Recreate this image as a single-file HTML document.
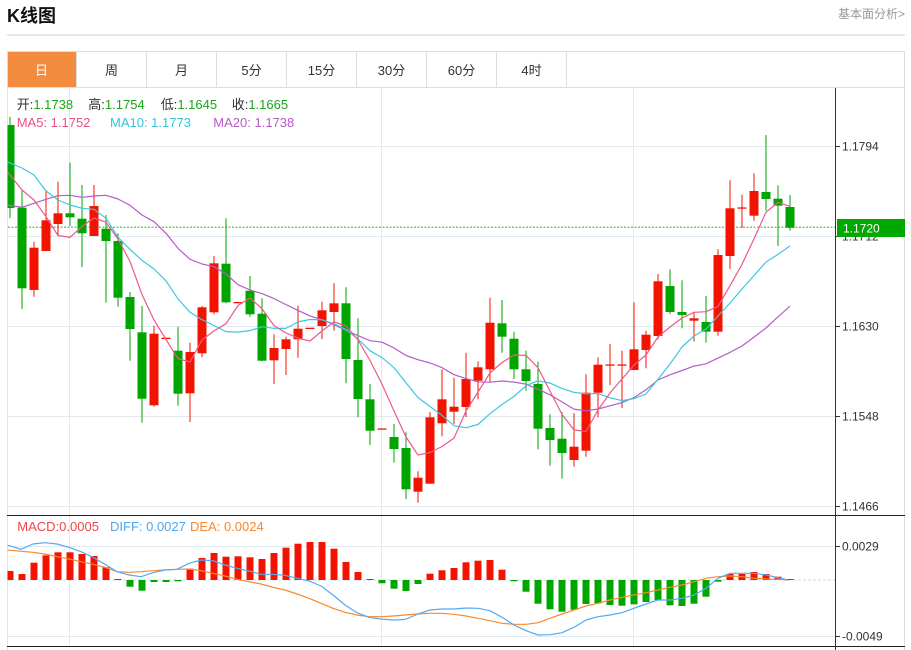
<!DOCTYPE html>
<html><head><meta charset="utf-8"><style>
html,body{margin:0;padding:0;background:#fff;}
svg{display:block;}
</style></head><body>
<svg width="911" height="650" viewBox="0 0 911 650" xmlns="http://www.w3.org/2000/svg" font-family="'Liberation Sans','Noto Sans CJK SC',sans-serif">
<defs>
<clipPath id="cp"><rect x="7.5" y="88" width="828" height="427.5"/></clipPath>
<clipPath id="cm"><rect x="7.5" y="516" width="828" height="130"/></clipPath>
</defs>
<rect width="911" height="650" fill="#fff"/>
<!-- header -->
<text x="7" y="22" font-size="18" font-weight="bold" fill="#111">K线图</text>
<text x="905" y="18" font-size="12" fill="#999" text-anchor="end">基本面分析&gt;</text>
<rect x="7" y="34.5" width="898" height="1" fill="#d2d2d2"/>
<!-- tabs -->
<rect x="7" y="52" width="69" height="35.5" fill="#f38c3f"/>
<rect x="7.5" y="51.5" width="897" height="36" fill="none" stroke="#dedede"/>
<g stroke="#dedede">
<line x1="76.5" y1="52" x2="76.5" y2="87"/><line x1="146.5" y1="52" x2="146.5" y2="87"/>
<line x1="216.5" y1="52" x2="216.5" y2="87"/><line x1="286.5" y1="52" x2="286.5" y2="87"/>
<line x1="356.5" y1="52" x2="356.5" y2="87"/><line x1="426.5" y1="52" x2="426.5" y2="87"/>
<line x1="496.5" y1="52" x2="496.5" y2="87"/><line x1="566.5" y1="52" x2="566.5" y2="87"/>
</g>
<g font-size="13" fill="#333" text-anchor="middle">
<text x="41.5" y="75" fill="#fff">日</text>
<text x="111.5" y="75">周</text><text x="181.5" y="75">月</text><text x="251.5" y="75">5分</text>
<text x="321.5" y="75">15分</text><text x="391.5" y="75">30分</text><text x="461.5" y="75">60分</text><text x="531.5" y="75">4时</text>
</g>
<!-- frame -->
<line x1="7.5" y1="88" x2="7.5" y2="650" stroke="#dde4ec"/>
<line x1="904.5" y1="52" x2="904.5" y2="650" stroke="#dedede"/>
<!-- grid -->
<g stroke="#e2eaf1" stroke-width="1">
<line x1="8" y1="146.5" x2="835" y2="146.5"/><line x1="8" y1="236.5" x2="835" y2="236.5"/>
<line x1="8" y1="326.5" x2="835" y2="326.5"/><line x1="8" y1="416.5" x2="835" y2="416.5"/>
<line x1="8" y1="506.5" x2="835" y2="506.5"/>
<line x1="8" y1="546.5" x2="835" y2="546.5"/><line x1="8" y1="636.5" x2="835" y2="636.5"/>
<line x1="69.5" y1="88" x2="69.5" y2="646"/><line x1="381.5" y1="88" x2="381.5" y2="646"/><line x1="633.5" y1="88" x2="633.5" y2="646"/>
</g>
<!-- legend -->
<g font-size="13">
<text x="16.7" y="109"><tspan fill="#333">开:</tspan><tspan fill="#1aa51a">1.1738</tspan></text>
<text x="88.3" y="109"><tspan fill="#333">高:</tspan><tspan fill="#1aa51a">1.1754</tspan></text>
<text x="160.7" y="109"><tspan fill="#333">低:</tspan><tspan fill="#1aa51a">1.1645</tspan></text>
<text x="231.7" y="109"><tspan fill="#333">收:</tspan><tspan fill="#1aa51a">1.1665</tspan></text>
<text x="16.7" y="127" fill="#f0507f">MA5: 1.1752</text>
<text x="110" y="127" fill="#35c4dc">MA10: 1.1773</text>
<text x="213.3" y="127" fill="#b55cc7">MA20: 1.1738</text>
</g>
<!-- price line -->
<line x1="8" y1="227.3" x2="835" y2="227.3" stroke="#74c874" stroke-width="1.5" stroke-dasharray="2 1.5"/>
<g clip-path="url(#cp)">
<!-- red candles -->
<g fill="#f21400">
<rect x="33.5" y="241.7" width="1" height="55"/><rect x="45.5" y="190" width="1" height="61"/><rect x="57.5" y="181.7" width="1" height="53.3"/>
<rect x="93.5" y="185" width="1" height="51"/><rect x="153.5" y="325.7" width="1" height="81"/><rect x="189.5" y="342.7" width="1" height="79.3"/>
<rect x="201.5" y="306" width="1" height="51.3"/><rect x="213.5" y="256" width="1" height="58.3"/><rect x="273.5" y="334.3" width="1" height="49.7"/>
<rect x="285.5" y="336.7" width="1" height="38.3"/><rect x="297.5" y="305.7" width="1" height="52"/><rect x="321.5" y="301.7" width="1" height="37.6"/>
<rect x="333.5" y="283.3" width="1" height="47.4"/><rect x="417.5" y="471.3" width="1" height="31.4"/><rect x="429.5" y="412" width="1" height="71.7"/>
<rect x="441.5" y="369.3" width="1" height="67"/><rect x="453.5" y="377.7" width="1" height="46.3"/><rect x="465.5" y="352.7" width="1" height="64.3"/>
<rect x="477.5" y="361.3" width="1" height="38"/><rect x="489.5" y="297.7" width="1" height="84"/><rect x="573.5" y="413.3" width="1" height="53.4"/>
<rect x="585.5" y="374.3" width="1" height="82.4"/><rect x="597.5" y="357.3" width="1" height="60"/><rect x="609.5" y="344" width="1" height="41"/>
<rect x="621.5" y="350.7" width="1" height="57.3"/><rect x="633.5" y="302.3" width="1" height="67.7"/><rect x="645.5" y="330.7" width="1" height="37.6"/>
<rect x="657.5" y="274" width="1" height="65.3"/><rect x="693.5" y="312.7" width="1" height="28.6"/><rect x="717.5" y="249.3" width="1" height="86.4"/>
<rect x="729.5" y="180.3" width="1" height="88.7"/><rect x="741.5" y="194.7" width="1" height="33"/><rect x="753.5" y="173.3" width="1" height="47.4"/>
<rect x="29.5" y="247.7" width="9" height="42.3"/><rect x="41.5" y="220.3" width="9" height="30.7"/><rect x="53.5" y="213.3" width="9" height="10.7"/>
<rect x="89.5" y="206" width="9" height="30"/><rect x="149.5" y="333.7" width="9" height="71.6"/><rect x="161.5" y="337.7" width="9" height="1.3"/>
<rect x="185.5" y="352" width="9" height="41.3"/><rect x="197.5" y="307.3" width="9" height="46"/><rect x="209.5" y="263.3" width="9" height="49"/>
<rect x="233.5" y="302" width="9" height="1.3"/><rect x="269.5" y="348" width="9" height="12.3"/><rect x="281.5" y="339.3" width="9" height="9.7"/>
<rect x="293.5" y="328.7" width="9" height="10.6"/><rect x="305.5" y="327.7" width="9" height="1.3"/><rect x="317.5" y="310.3" width="9" height="15.7"/>
<rect x="329.5" y="303.3" width="9" height="8.7"/><rect x="377.5" y="428.4" width="9" height="1.3"/><rect x="413.5" y="477.7" width="9" height="14"/>
<rect x="425.5" y="417.3" width="9" height="66.4"/><rect x="437.5" y="399.3" width="9" height="24"/><rect x="449.5" y="406.7" width="9" height="5"/>
<rect x="461.5" y="379" width="9" height="28"/><rect x="473.5" y="367.3" width="9" height="13.4"/><rect x="485.5" y="322.7" width="9" height="46.6"/>
<rect x="569.5" y="446.7" width="9" height="13.3"/><rect x="581.5" y="392.7" width="9" height="58"/><rect x="593.5" y="364.7" width="9" height="28"/>
<rect x="605.5" y="364.4" width="9" height="1.3"/><rect x="617.5" y="364.4" width="9" height="1.3"/><rect x="629.5" y="349.3" width="9" height="20.7"/>
<rect x="641.5" y="334.7" width="9" height="15.3"/><rect x="653.5" y="281.3" width="9" height="54.7"/><rect x="689.5" y="318.3" width="9" height="2.4"/>
<rect x="713.5" y="255" width="9" height="76.7"/><rect x="725.5" y="208.3" width="9" height="47.7"/><rect x="737.5" y="207.4" width="9" height="1.3"/>
<rect x="749.5" y="191" width="9" height="24.7"/>
</g>
<!-- green candles -->
<g fill="#00a600">
<rect x="9.5" y="117" width="1" height="101"/><rect x="21.5" y="190" width="1" height="119"/><rect x="69.5" y="162.7" width="1" height="63.3"/>
<rect x="81.5" y="185" width="1" height="82.3"/><rect x="105.5" y="215" width="1" height="87.7"/><rect x="117.5" y="233.3" width="1" height="73.4"/>
<rect x="129.5" y="292" width="1" height="68.7"/><rect x="141.5" y="306" width="1" height="116.7"/><rect x="177.5" y="326.7" width="1" height="79"/>
<rect x="225.5" y="218.3" width="1" height="85"/><rect x="249.5" y="276" width="1" height="40.7"/><rect x="261.5" y="298.3" width="1" height="63"/>
<rect x="345.5" y="287.3" width="1" height="96"/><rect x="357.5" y="318.3" width="1" height="99"/><rect x="369.5" y="384" width="1" height="61"/>
<rect x="393.5" y="424" width="1" height="38.7"/><rect x="405.5" y="432.3" width="1" height="66.7"/><rect x="501.5" y="300" width="1" height="52.7"/>
<rect x="513.5" y="331.7" width="1" height="47.3"/><rect x="525.5" y="350.7" width="1" height="40"/><rect x="537.5" y="361.7" width="1" height="87.6"/>
<rect x="549.5" y="414.3" width="1" height="51.4"/><rect x="561.5" y="412" width="1" height="66.7"/><rect x="669.5" y="269.3" width="1" height="44.7"/>
<rect x="681.5" y="280.3" width="1" height="48"/><rect x="705.5" y="296" width="1" height="46.7"/><rect x="765.5" y="135" width="1" height="75.7"/>
<rect x="777.5" y="185.3" width="1" height="60.7"/><rect x="789.5" y="195" width="1" height="35.7"/>
<rect x="5.5" y="125" width="9" height="83"/><rect x="17.5" y="207.7" width="9" height="80.6"/><rect x="65.5" y="213.3" width="9" height="4"/>
<rect x="77.5" y="218.7" width="9" height="14.6"/><rect x="101.5" y="228.7" width="9" height="12.3"/><rect x="113.5" y="241" width="9" height="56.7"/>
<rect x="125.5" y="297" width="9" height="32"/><rect x="137.5" y="332.3" width="9" height="66.4"/><rect x="173.5" y="350.7" width="9" height="43"/>
<rect x="221.5" y="263.7" width="9" height="38.6"/><rect x="245.5" y="290.7" width="9" height="23.6"/><rect x="257.5" y="313.7" width="9" height="47"/>
<rect x="341.5" y="303.3" width="9" height="55.7"/><rect x="353.5" y="360" width="9" height="39"/><rect x="365.5" y="399.3" width="9" height="31.4"/>
<rect x="389.5" y="437" width="9" height="12"/><rect x="401.5" y="448" width="9" height="41.3"/><rect x="497.5" y="323.3" width="9" height="13.4"/>
<rect x="509.5" y="338.7" width="9" height="30.6"/><rect x="521.5" y="369.3" width="9" height="11.7"/><rect x="533.5" y="384" width="9" height="44.7"/>
<rect x="545.5" y="428" width="9" height="12"/><rect x="557.5" y="438.7" width="9" height="14.3"/><rect x="665.5" y="286" width="9" height="26"/>
<rect x="677.5" y="312" width="9" height="3"/><rect x="701.5" y="322" width="9" height="9.7"/><rect x="761.5" y="192" width="9" height="7"/>
<rect x="773.5" y="198.7" width="9" height="7"/><rect x="785.5" y="207" width="9" height="20.7"/>
</g>
<!-- MA lines -->
<g fill="none" stroke-width="1.2" stroke-linejoin="round">
<polyline stroke="#b55cc7" points="7,205 10,205.5 22,207.3 34,203.3 46,199.3 58,195.7 70,195.3 82,197.3 94,196 106,195.3 118,199 130,205.3 142,215 154,221.7 166,233.3 178,248.3 190,259.3 202,264 214,266.7 226,274 238,284.7 250,290 262,293.6 274,298.6 286,304.6 298,310.4 310,315.9 322,319.8 334,324.6 346,330.5 358,335.6 370,340.7 382,342.2 394,348 406,355.5 418,359.7 430,363 442,367.6 454,374.7 466,378.6 478,381.8 490,382.2 502,381 514,382.1 526,384.2 538,389.2 550,394.8 562,401.9 574,409.1 586,410.8 598,409 610,405.8 622,402.6 634,397.6 646,389.8 658,380 670,374.8 682,370.5 694,366.1 706,363.8 718,358.1 730,352.4 742,346 754,337.1 766,328 778,316.8 790,306.2"/>
<polyline stroke="#3cc8df" points="7,161.7 10,163 22,168 34,175 46,191 58,200 70,205 82,208.3 94,209.3 106,218.3 118,237.3 130,249.4 142,260.4 154,269 166,280.8 178,298.9 190,312.3 202,319.7 214,325.5 226,331.6 238,332.1 250,330.6 262,326.8 274,328.3 286,328.4 298,321.9 310,319.5 322,319.8 334,323.8 346,329.5 358,339.1 370,350.7 382,357.6 394,367.7 406,382.7 418,397.6 430,406.5 442,415.4 454,425.7 466,427.7 478,424.5 490,413.7 502,404.5 514,396.5 526,385.7 538,380.8 550,383.1 562,388.4 574,392.4 586,393.8 598,393.6 610,397.8 622,400.6 634,398.6 646,394 658,379.2 670,364 682,347 694,336 706,329 718,316 730,303 742,289 754,275.5 766,262 778,254.4 790,246"/>
<polyline stroke="#f0578a" points="7,171.7 10,175 22,190 34,200 46,216.7 58,235.5 70,237.4 82,226.4 94,218 106,222.2 118,239.1 130,261.4 142,294.5 154,320 166,339.5 178,358.7 190,362 202,340 214,330.9 226,323.7 238,305.5 250,298 262,308.7 274,325.6 286,333 298,338.2 310,341 322,330.9 334,322 346,325.9 358,340 370,360.5 382,384.2 394,411 406,437 418,455.1 430,452.5 442,446.5 454,438.1 466,411 478,392 490,373 502,362.5 514,355 526,355.4 538,367.7 550,391.1 562,414.4 574,429.9 586,431.5 598,410 610,393 622,379 634,365 646,355 658,337 670,327 682,318 694,312.3 706,311.7 718,306.4 730,285.7 742,264.3 754,238.8 766,212.3 778,202.4 790,206.3"/>
</g>
</g>
<!-- MACD panel -->
<line x1="7" y1="515.5" x2="905" y2="515.5" stroke="#222"/>
<line x1="7" y1="646.5" x2="905" y2="646.5" stroke="#222"/>
<line x1="8" y1="580" x2="835" y2="580" stroke="#b9dcf2" stroke-dasharray="3 2"/>
<g font-size="13">
<text x="17.3" y="531" fill="#f04545">MACD:0.0005</text>
<text x="110" y="531" fill="#4ea6ee">DIFF: 0.0027</text>
<text x="190" y="531" fill="#f5872c">DEA: 0.0024</text>
</g>
<g clip-path="url(#cm)">
<g fill="#f21400">
<rect x="6.5" y="571" width="7" height="9"/><rect x="18.5" y="574" width="7" height="6"/><rect x="30.5" y="562.7" width="7" height="17.3"/>
<rect x="42.5" y="555.3" width="7" height="24.7"/><rect x="54.5" y="552.3" width="7" height="27.7"/><rect x="66.5" y="552.3" width="7" height="27.7"/>
<rect x="78.5" y="554" width="7" height="26"/><rect x="90.5" y="556" width="7" height="24"/><rect x="102.5" y="567.3" width="7" height="12.7"/>
<rect x="114.5" y="579" width="7" height="1"/>
<rect x="186.5" y="568.7" width="7" height="11.3"/><rect x="198.5" y="558" width="7" height="22"/><rect x="210.5" y="553" width="7" height="27"/>
<rect x="222.5" y="556.7" width="7" height="23.3"/><rect x="234.5" y="556.3" width="7" height="23.7"/><rect x="246.5" y="557.3" width="7" height="22.7"/>
<rect x="258.5" y="559" width="7" height="21"/><rect x="270.5" y="553" width="7" height="27"/><rect x="282.5" y="547.7" width="7" height="32.3"/>
<rect x="294.5" y="543.7" width="7" height="36.3"/><rect x="306.5" y="542" width="7" height="38"/><rect x="318.5" y="542" width="7" height="38"/>
<rect x="330.5" y="548.7" width="7" height="31.3"/><rect x="342.5" y="562" width="7" height="18"/><rect x="354.5" y="572" width="7" height="8"/>
<rect x="366.5" y="579" width="7" height="1"/>
<rect x="426.5" y="573.7" width="7" height="6.3"/><rect x="438.5" y="570.3" width="7" height="9.7"/><rect x="450.5" y="568" width="7" height="12"/>
<rect x="462.5" y="562.3" width="7" height="17.7"/><rect x="474.5" y="560.7" width="7" height="19.3"/><rect x="486.5" y="560" width="7" height="20"/>
<rect x="498.5" y="569.7" width="7" height="10.3"/>
<rect x="726.5" y="574" width="7" height="6"/><rect x="738.5" y="574" width="7" height="6"/><rect x="750.5" y="572" width="7" height="8"/>
<rect x="762.5" y="574" width="7" height="6"/><rect x="774.5" y="576.7" width="7" height="3.3"/><rect x="786.5" y="579" width="7" height="1"/>
</g>
<g fill="#00a600">
<rect x="126.5" y="580" width="7" height="6.7"/><rect x="138.5" y="580" width="7" height="10.7"/><rect x="150.5" y="580" width="7" height="2"/>
<rect x="162.5" y="580" width="7" height="2"/><rect x="174.5" y="580" width="7" height="1.3"/>
<rect x="378.5" y="580" width="7" height="3.3"/><rect x="390.5" y="580" width="7" height="8.7"/><rect x="402.5" y="580" width="7" height="11"/>
<rect x="414.5" y="580" width="7" height="4"/>
<rect x="510.5" y="580" width="7" height="1.3"/><rect x="522.5" y="580" width="7" height="11.7"/><rect x="534.5" y="580" width="7" height="23.7"/>
<rect x="546.5" y="580" width="7" height="29.3"/><rect x="558.5" y="580" width="7" height="31.7"/><rect x="570.5" y="580" width="7" height="29.7"/>
<rect x="582.5" y="580" width="7" height="24"/><rect x="594.5" y="580" width="7" height="23.3"/><rect x="606.5" y="580" width="7" height="25"/>
<rect x="618.5" y="580" width="7" height="25.7"/><rect x="630.5" y="580" width="7" height="24.3"/><rect x="642.5" y="580" width="7" height="22"/>
<rect x="654.5" y="580" width="7" height="20"/><rect x="666.5" y="580" width="7" height="25.3"/><rect x="678.5" y="580" width="7" height="26"/>
<rect x="690.5" y="580" width="7" height="23.7"/><rect x="702.5" y="580" width="7" height="16.7"/><rect x="714.5" y="580" width="7" height="1.7"/>
</g>
<g fill="none" stroke-width="1.2" stroke-linejoin="round">
<polyline stroke="#f98a2c" points="7,550 33,552.3 45,554 57,556.7 69,559 81,561.7 93,564.3 105,567.3 117,571.7 129,572.3 141,571.7 153,570.7 165,570 177,569.3 189,569 201,570.7 213,573.3 225,576 237,579.3 249,581.7 261,584 273,587.3 285,590 297,594 309,598.3 321,603.3 333,608.3 345,612.3 357,615 369,616.7 381,616.7 393,616 405,615 417,614 430,613.3 442,613.3 454,614.3 466,616 478,618.3 490,620.7 502,623.3 514,624.3 526,624.3 538,622.7 550,618.3 562,614 574,610 586,606 598,603.3 610,600 622,597.3 634,595 646,592.7 658,590 670,587.3 682,585 694,581.7 706,578.3 718,576.7 730,576 742,576.7 754,578.3 766,579 778,579.3 788,580"/>
<polyline stroke="#55a9f2" points="7,545 21,549.3 33,544 45,542.7 57,544 69,547.3 81,551.7 93,557.3 105,564.3 117,571.7 129,575 141,576.7 153,572.7 165,570 177,569.3 189,563.3 201,560 213,560.7 225,565 237,568.3 249,571 261,574.3 273,574.3 285,575.3 297,578.3 309,581 321,586 333,595 345,605 357,612.7 369,617.3 381,619 393,620 405,619.5 418,614 430,610 442,609 454,609 466,608 478,608.3 490,610.7 502,617.3 514,625 526,630.7 538,635 550,634.7 562,632.7 574,627.3 586,620 598,616.7 610,615 622,612.7 634,608.3 646,604 658,600 670,600 682,598.3 694,595 706,588.3 718,578.3 730,573.3 742,573.3 754,573.3 766,575 778,577.7 788,580"/>
</g>
</g>
<!-- right axis -->
<line x1="835.5" y1="88" x2="835.5" y2="650" stroke="#333"/>
<g stroke="#333">
<line x1="836" y1="146.5" x2="840" y2="146.5"/><line x1="836" y1="236.5" x2="840" y2="236.5"/>
<line x1="836" y1="326.5" x2="840" y2="326.5"/><line x1="836" y1="416.5" x2="840" y2="416.5"/>
<line x1="836" y1="506.5" x2="840" y2="506.5"/><line x1="836" y1="546.5" x2="840" y2="546.5"/>
<line x1="836" y1="636.5" x2="840" y2="636.5"/>
</g>
<g font-size="12" fill="#333">
<text x="842" y="150.5">1.1794</text>
<text x="842" y="240.5">1.1712</text>
<text x="842" y="330.5">1.1630</text>
<text x="842" y="420.5">1.1548</text>
<text x="842" y="510.5">1.1466</text>
<text x="842" y="550.5">0.0029</text>
<text x="842" y="640.5">-0.0049</text>
</g>
<rect x="837" y="219" width="68" height="18" fill="#00a800"/>
<text x="843" y="232.3" font-size="12" fill="#fff">1.1720</text>
</svg>
</body></html>
